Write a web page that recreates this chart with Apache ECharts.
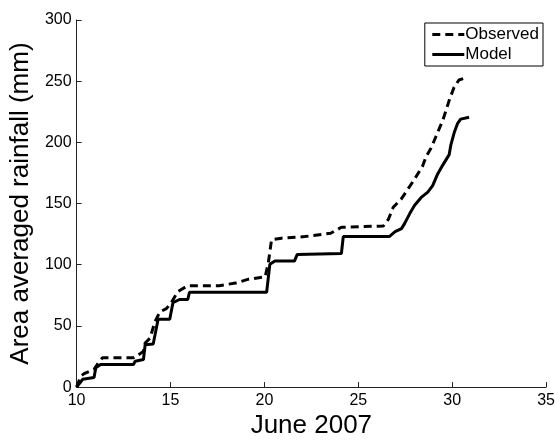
<!DOCTYPE html>
<html><head><meta charset="utf-8">
<script src="https://cdn.jsdelivr.net/npm/echarts@6/dist/echarts.min.js"></script>
<style>html,body{margin:0;padding:0;background:#fff}#c{width:558px;height:444px}</style>
</head><body><div id="c"></div>
<script>
const obsDay = [10.0,10.23,10.4,10.93,11.1,11.37,13.03,13.3,13.56,13.65,13.91,14.17,14.43,14.78,15.04,15.39,15.92,17.58,18.46,19.16,20.04,20.21,20.38,20.91,22.15,23.53,24.1,26.34,26.6,26.86,27.3,27.65,28.0,28.43,28.6,28.88,29.14,29.5,29.84,30.1,30.36,30.75];
const obsVal = [0,9,11,14.5,18.5,23.9,23.9,26.5,29.2,36,40,53.3,61.4,64.1,69,78,82.9,82.9,85,88.2,90.1,101.6,120.4,121.7,123,125.7,130.6,131.7,137,147,154,162,170,180.8,188,195.5,205,218,234.3,245,251,253];
const modDay = [10.0,10.05,10.33,10.93,11.02,11.28,13.03,13.12,13.56,13.65,14.08,14.34,14.96,15.13,15.48,15.92,16.01,20.12,20.29,20.56,21.6,21.75,24.1,24.2,26.65,26.96,27.3,27.47,27.74,28.0,28.35,28.7,28.96,29.22,29.48,29.84,29.93,30.1,30.29,30.45,30.9];
const modVal = [0,0.2,6.4,7.8,15.8,18.5,18.5,21.2,22.5,34.6,35.2,55.5,55.5,69,71.6,71.6,77.5,77.5,100.3,103,103,108.4,109.2,123,123,127,129.5,133.8,141.8,148.6,155,159.3,164.7,174,181,190,198,207.6,215.6,219,220.5];
const xTicks = [10,15,20,25,30,35];
const yTicks = [0,50,100,150,200,250,300];

const font = 'Liberation Sans, Arial, Helvetica, sans-serif';
const chart = echarts.init(document.getElementById('c'), null, {renderer:'canvas'});
const axisCommon = {
  axisLine:{show:true,lineStyle:{color:'#222',width:1}},
  axisTick:{show:true,inside:true,length:5,lineStyle:{color:'#222'}},
  splitLine:{show:false},
  axisLabel:{color:'#000',fontSize:16,fontFamily:font},
  nameTextStyle:{color:'#000',fontSize:26,fontFamily:font}
};
chart.setOption({
  backgroundColor:'#fff',
  animation:false,
  grid:{left:72,right:10,top:20,bottom:51,containLabel:false},
  legend:{
    orient:'vertical', right:15, top:23,
    backgroundColor:'#fff', borderColor:'#000', borderWidth:1,
    padding:[3,4,3,6], itemGap:3, itemWidth:32, itemHeight:14,
    itemStyle:{opacity:0},
    lineStyle:{width:3},
    textStyle:{color:'#000',fontSize:17,fontFamily:font,padding:[0,0,0,-4]},
    data:['Observed','Model']
  },
  xAxis:Object.assign({}, axisCommon, {
    type:'value', min:xTicks[0], max:xTicks[xTicks.length-1], interval:5,
    name:'June 2007', nameLocation:'middle', nameGap:22,
    axisLabel:Object.assign({}, axisCommon.axisLabel, {margin:5})
  }),
  yAxis:Object.assign({}, axisCommon, {
    type:'value', min:yTicks[0], max:yTicks[yTicks.length-1], interval:50,
    name:'Area averaged rainfall (mm)', nameLocation:'middle', nameGap:38, nameRotate:90,
    axisLabel:Object.assign({}, axisCommon.axisLabel, {margin:5})
  }),
  series:[
    {name:'Observed', type:'line', symbol:'none', color:'#000',
     lineStyle:{color:'#000',width:3,type:[8,5]},
     data:obsDay.map((d,i)=>[d,obsVal[i]])},
    {name:'Model', type:'line', symbol:'none', color:'#000',
     lineStyle:{color:'#000',width:3,type:'solid'},
     data:modDay.map((d,i)=>[d,modVal[i]])}
  ]
});
</script></body></html>
